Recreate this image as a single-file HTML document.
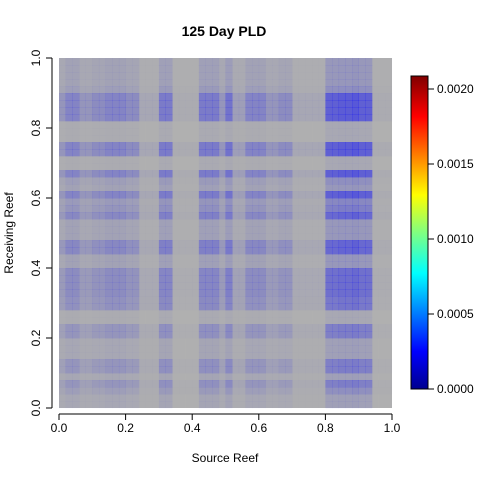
<!DOCTYPE html>
<html><head><meta charset="utf-8"><style>
body{margin:0;background:#fff;font-family:"Liberation Sans",Arial,sans-serif}
svg text{font-family:"Liberation Sans",Arial,sans-serif}
</style></head><body>
<svg id="chart" width="480" height="480" viewBox="0 0 480 480" xmlns="http://www.w3.org/2000/svg">
<defs>
<linearGradient id="jet" x1="0" y1="1" x2="0" y2="0">
<stop offset="0" stop-color="#00008f"/>
<stop offset="0.12" stop-color="#0000ff"/>
<stop offset="0.37" stop-color="#00ffff"/>
<stop offset="0.5" stop-color="#80ff80"/>
<stop offset="0.62" stop-color="#ffff00"/>
<stop offset="0.87" stop-color="#ff0000"/>
<stop offset="1" stop-color="#800000"/>
</linearGradient>
</defs>
<text x="224" y="36" text-anchor="middle" font-size="14" font-weight="bold">125 Day PLD</text>
<rect x="59" y="58" width="333" height="350" fill="#b0b0b0"/>
<g id="cells"></g>
<g id="axes"></g>
<text x="225" y="462" text-anchor="middle" font-size="12">Source Reef</text>
<text transform="translate(13,233) rotate(-90)" text-anchor="middle" font-size="12">Receiving Reef</text>
<rect x="411" y="76" width="17" height="313" fill="url(#jet)" stroke="#000" stroke-width="1"/>
<g id="cbticks"></g>
</svg>
<script>
const colDensity=[0.3,0.5,0.5,0.3,0.3,0.4,0.4,0.5,0.5,0.5,0.4,0.4,0.1,0.1,0.1,0.6,0.6,0.05,0.05,0.05,0.05,0.6,0.6,0.6,0.3,0.7,0.2,0.2,0.5,0.5,0.5,0.3,0.3,0.4,0.4,0.1,0.1,0.1,0.1,0.1,0.9,0.9,0.95,0.95,1.0,0.9,0.9,0.05,0.05,0.05];
const rowDensity=[0.2,0.2,0.4,0.6,0.2,0.6,0.6,0.2,0.2,0.2,0.6,0.6,0.1,0.1,0.7,0.7,0.8,0.8,0.8,0.8,0.3,0.3,0.9,0.9,0.3,0.3,0.3,0.9,0.6,0.5,1.0,0.3,0.4,1.0,0.1,0.1,1.0,1.0,0.1,0.1,0.1,1.0,1.0,1.0,1.0,0.4,0.3,0.3,0.3,0.3];
const xTicks=[0,0.2,0.4,0.6,0.8,1.0];
const yTicks=[0,0.2,0.4,0.6,0.8,1.0];
const cbTicks=[0,0.0005,0.001,0.0015,0.002];
const cbLabels=["0.0000","0.0005","0.0010","0.0015","0.0020"];
const X0=59,X1=392,Y0=408,Y1=58;
const sx=v=>X0+v*(X1-X0), sy=v=>Y0-v*(Y0-Y1);
const ns="http://www.w3.org/2000/svg";
const cells=document.getElementById('cells');
const n=colDensity.length,m=rowDensity.length;
for(let i=0;i<n;i++)for(let j=0;j<m;j++){
 const v=colDensity[i]*rowDensity[j];
 if(v<0.01)continue;
 const r=document.createElementNS(ns,'rect');
 
 
 const x=sx(i/n),y=sy((j+1)/m);
 r.setAttribute('x',x);r.setAttribute('y',y);
 r.setAttribute('width',sx((i+1)/n)-x+0.3);r.setAttribute('height',sy(j/m)-y+0.3);
 r.setAttribute('fill','#0000ff');
 r.setAttribute('fill-opacity',Math.min(0.55,v*0.5));
 cells.appendChild(r);
}
const ax=document.getElementById('axes');
function add(tag,attrs,txt){const e=document.createElementNS(ns,tag);for(const k in attrs)e.setAttribute(k,attrs[k]);if(txt!==undefined)e.textContent=txt;return e;}
let l=add('line',{x1:sx(0),x2:sx(1),y1:414,y2:414,stroke:'#000'});ax.appendChild(l);
l=add('line',{x1:52,x2:52,y1:sy(0),y2:sy(1),stroke:'#000'});ax.appendChild(l);
xTicks.forEach(t=>{const g=add('g',{});
 g.appendChild(add('line',{x1:sx(t),x2:sx(t),y1:414,y2:420,stroke:'#000'}));
 g.appendChild(add('text',{x:sx(t),y:432,'text-anchor':'middle','font-size':12},t.toFixed(1)));ax.appendChild(g);});
yTicks.forEach(t=>{const g=add('g',{});
 g.appendChild(add('line',{x1:46,x2:52,y1:sy(t),y2:sy(t),stroke:'#000'}));
 g.appendChild(add('text',{transform:`translate(40,${sy(t)}) rotate(-90)`,'text-anchor':'middle','font-size':12},t.toFixed(1)));ax.appendChild(g);});
const cb=document.getElementById('cbticks');
const cy=v=>389-v/0.002*300;
cbTicks.forEach((t,k)=>{const g=add('g',{});
 g.appendChild(add('line',{x1:428,x2:434,y1:cy(t),y2:cy(t),stroke:'#000'}));
 g.appendChild(add('text',{x:437,y:cy(t)+4,'font-size':12},cbLabels[k]));cb.appendChild(g);});
</script>
</body></html>
